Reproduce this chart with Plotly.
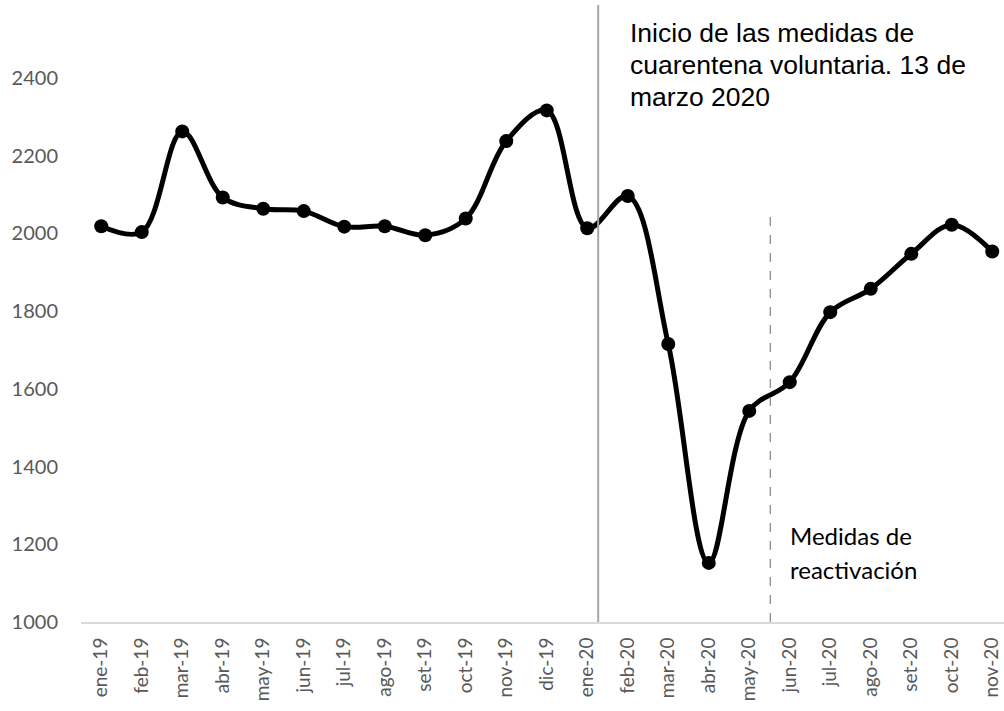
import plotly.graph_objects as go

months = ["ene-19", "feb-19", "mar-19", "abr-19", "may-19", "jun-19", "jul-19", "ago-19",
          "set-19", "oct-19", "nov-19", "dic-19", "ene-20", "feb-20", "mar-20", "abr-20",
          "may-20", "jun-20", "jul-20", "ago-20", "set-20", "oct-20", "nov-20"]
values = [2018, 2003, 2262, 2092, 2063, 2057, 2017, 2018, 1995, 2038, 2237, 2316,
          2013, 2096, 1715, 1152, 1543, 1617, 1797, 1857, 1947, 2022, 1953]
y_ticks = [1000, 1200, 1400, 1600, 1800, 2000, 2200, 2400]

note1_lines = ["Inicio de las medidas de", "cuarentena voluntaria. 13 de", "marzo 2020"]
note2_lines = ["Medidas de", "reactivación"]

fig = go.Figure()
fig.add_trace(go.Scatter(
    x=months, y=values, mode="lines+markers",
    line=dict(color="black", width=5, shape="spline", smoothing=1.0),
    marker=dict(color="black", size=14),
    showlegend=False, hoverinfo="x+y",
))

# quarantine start (13 March 2020) - solid line
fig.add_shape(type="line", xref="x", yref="y", x0=12.27, x1=12.27, y0=1000, y1=2587,
              line=dict(color="#A6A6A6", width=2))
# reactivation - dashed line
fig.add_shape(type="line", xref="x", yref="y", x0=16.52, x1=16.52, y0=1000, y1=2065,
              line=dict(color="#8C8C8C", width=1.3, dash="dash"))

for i, t in enumerate(note1_lines):
    fig.add_annotation(x=13.0, y=2515 - i * 82, xref="x", yref="y", text=t, showarrow=False,
                       xanchor="left", yanchor="middle",
                       font=dict(family="Liberation Sans, Arial", size=26.5, color="black"))
for i, t in enumerate(note2_lines):
    fig.add_annotation(x=16.96, y=1222 - i * 86, xref="x", yref="y", text=t, showarrow=False,
                       xanchor="left", yanchor="middle",
                       font=dict(family="Lato, Open Sans", size=24, color="black"))

fig.update_layout(
    width=1004, height=711,
    margin=dict(l=81, r=0, t=0, b=89),
    paper_bgcolor="white", plot_bgcolor="white",
    font=dict(family="Lato, Open Sans", color="#595959", size=20),
    xaxis=dict(type="category", range=[-0.5, 22.29], tickangle=-90, showgrid=False,
               showline=True, linecolor="#D9D9D9", linewidth=2, ticks="",
               ticklabelstandoff=6,
               tickfont=dict(size=19, color="#595959"), fixedrange=True),
    yaxis=dict(range=[1000, 2600], tickvals=y_ticks, showgrid=False, zeroline=False,
               showline=False, ticks="", ticklabelstandoff=22,
               tickfont=dict(size=20, color="#595959")),
)

fig.write_html("out.html", config={"displayModeBar": False},
               post_script="document.body.style.margin='0';")
